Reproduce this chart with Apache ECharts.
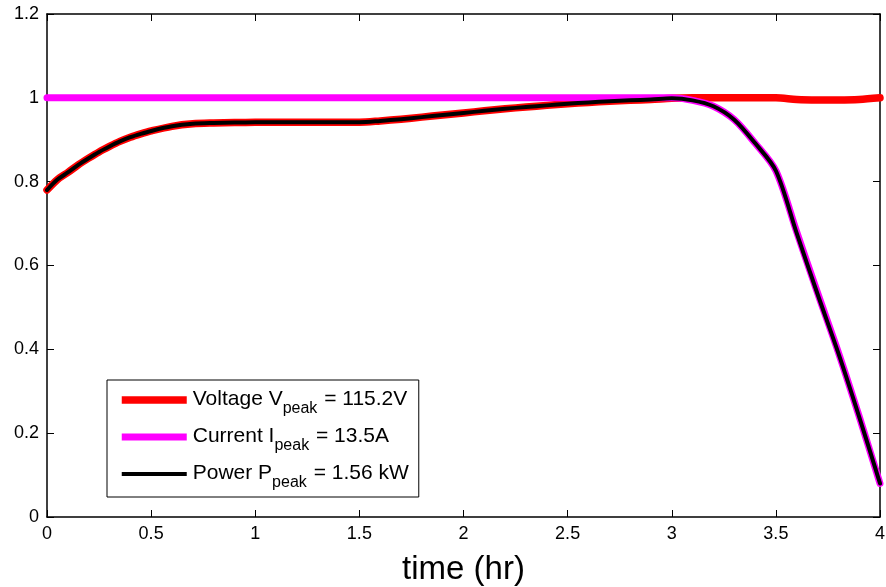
<!DOCTYPE html>
<html><head><meta charset="utf-8">
<script src="https://cdn.jsdelivr.net/npm/echarts@6/dist/echarts.min.js"></script>
<style>html,body{margin:0;padding:0;background:#fff}#c{width:886px;height:587px}</style>
</head><body><div id="c"></div>
<script>
// time (hr)
const time = [0,0.05,0.1,0.15,0.2,0.25,0.3,0.35,0.4,0.45,0.5,0.6,0.7,0.8,0.9,1.0,1.1,1.2,1.3,1.4,1.5,1.6,1.7,1.8,1.9,2.0,2.1,2.2,2.3,2.4,2.5,2.6,2.7,2.8,2.9,3.0,3.1,3.2,3.3,3.4,3.5,3.6,3.7,3.8,3.9,4.0];
// normalized voltage
const voltage = [0.780,0.805,0.822,0.840,0.856,0.871,0.884,0.896,0.906,0.914,0.921,0.932,0.938,0.940,0.941,0.942,0.942,0.942,0.942,0.942,0.942,0.945,0.949,0.954,0.959,0.964,0.969,0.974,0.978,0.982,0.986,0.989,0.992,0.994,0.996,0.999,1.0,1.0,1.0,1.0,1.0,0.996,0.995,0.995,0.996,1.0];
// normalized current
const current = [1,1,1,1,1,1,1,1,1,1,1,1,1,1,1,1,1,1,1,1,1,1,1,1,1,1,1,1,1,1,1,1,1,1,1,1,0.994,0.980,0.948,0.892,0.826,0.680,0.535,0.393,0.240,0.080];
// normalized power
const power = [0.780,0.805,0.822,0.840,0.856,0.871,0.884,0.896,0.906,0.914,0.921,0.932,0.938,0.940,0.941,0.942,0.942,0.942,0.942,0.942,0.942,0.945,0.949,0.954,0.959,0.964,0.969,0.974,0.978,0.982,0.986,0.989,0.992,0.994,0.996,0.999,0.994,0.980,0.948,0.892,0.826,0.677,0.532,0.391,0.239,0.080];

const seriesNames = ['Voltage','Current','Power'];
const legendParts = {
  Voltage: ['Voltage V','peak',' = 115.2V'],
  Current: ['Current I','peak',' = 13.5A'],
  Power: ['Power P','peak',' = 1.56 kW']
};
const xAxisTitle = 'time (hr)';
const xMin = 0, xMax = 4, xStep = 0.5;
const yMin = 0, yMax = 1.2, yStep = 0.2;

const FONT = 'Arial, "Liberation Sans", sans-serif';
const colors = ['#ff0000','#ff00ff','#000000'];
const widths = [7.5,7,4];
const seriesData = [voltage, current, power];

const chart = echarts.init(document.getElementById('c'), null, {renderer:'canvas'});
const axisCommon = {
  axisLine:{show:true, onZero:false, lineStyle:{color:'#000', width:1.5}},
  axisTick:{show:true, inside:true, length:7, lineStyle:{color:'#000', width:1}},
  splitLine:{show:false}
};
chart.setOption({
  animation:false,
  backgroundColor:'#fff',
  grid:{left:47, right:6, top:14, bottom:70, containLabel:false, outerBoundsMode:'none'},
  xAxis:[
    Object.assign({type:'value', position:'bottom', min:xMin, max:xMax, interval:xStep,
      name:xAxisTitle, nameLocation:'middle', nameGap:36,
      nameTextStyle:{fontSize:33, fontFamily:FONT, color:'#000'},
      axisLabel:{fontSize:18, fontFamily:FONT, color:'#000', margin:8}}, axisCommon),
    Object.assign({type:'value', position:'top', min:xMin, max:xMax, interval:xStep,
      axisLabel:{show:false}}, axisCommon)
  ],
  yAxis:[
    Object.assign({type:'value', position:'left', min:yMin, max:yMax, interval:yStep,
      axisLabel:{fontSize:18, fontFamily:FONT, color:'#000', margin:8}}, axisCommon),
    Object.assign({type:'value', position:'right', min:yMin, max:yMax, interval:yStep,
      axisLabel:{show:false}}, axisCommon)
  ],
  legend:{
    orient:'vertical', left:107, top:380,
    data: seriesNames.map((n,i)=>({name:n,
      lineStyle:{width:widths[i], color:colors[i], cap:'butt'},
      itemStyle:{opacity:0}})),
    itemWidth:65, itemHeight:14, itemGap:9,
    backgroundColor:'#fff', borderColor:'#000', borderWidth:1, borderRadius:0,
    padding:[9,10,6,11],
    selectedMode:false,
    formatter: name => { const p = legendParts[name]; return '{t|'+p[0]+'}{s|'+p[1]+'}{t|'+p[2]+'}'; },
    textStyle:{ rich:{
      t:{fontSize:21, fontFamily:FONT, color:'#000', lineHeight:22, verticalAlign:'top', padding:[0,0,0,1]},
      s:{fontSize:16, fontFamily:FONT, color:'#000', lineHeight:17, padding:[12,0,0,0], verticalAlign:'top'}
    }}
  },
  series: seriesNames.map((n,i)=>({
    name:n, type:'line', xAxisIndex:0, yAxisIndex:0,
    data: time.map((t,k)=>[t, seriesData[i][k]]),
    showSymbol:false, symbol:'none', smooth:0.3,
    lineStyle:{color:colors[i], width:widths[i], cap:'round', join:'round'},
    itemStyle:{color:colors[i]},
    z: 2+i
  }))
});
</script></body></html>
